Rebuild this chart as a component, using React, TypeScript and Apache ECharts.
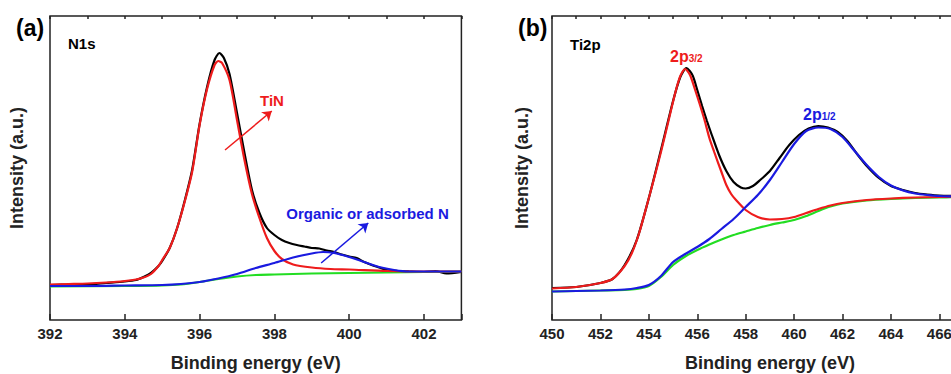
import React, { useEffect, useRef } from "react";
import * as echarts from "echarts";

// ---------- Panel (a): N1s ----------
const n1sRaw: [number, number][] = [
  [392.0, 35], [392.3, 35.5], [392.6, 35], [393.0, 35.5], [393.5, 37], [394.0, 38.5], [394.3, 40],
  [394.5, 43], [394.7, 47], [394.9, 54], [395.0, 59], [395.2, 72], [395.4, 92], [395.6, 119],
  [395.8, 150], [396.0, 196], [396.2, 233], [396.4, 260], [396.53, 267], [396.65, 262], [396.8, 246],
  [397.0, 207], [397.2, 167], [397.4, 130], [397.6, 107], [397.8, 92], [398.0, 85], [398.2, 80],
  [398.4, 77], [398.6, 75], [398.8, 73.5], [399.0, 72], [399.2, 71.5], [399.4, 69.5], [399.6, 68],
  [399.8, 65.5], [400.0, 63.5], [400.2, 62], [400.4, 58], [400.6, 55], [400.8, 52.5], [401.0, 50],
  [401.3, 49], [401.6, 48.5], [402.0, 48], [402.3, 49], [402.6, 46.5], [403.0, 48],
];
const n1sTiN: [number, number][] = [
  [392.0, 35.5], [392.5, 36], [393.0, 36.5], [393.5, 37.5], [394.0, 39], [394.3, 40.5], [394.5, 42.5],
  [394.7, 46], [394.9, 54], [395.0, 60], [395.2, 72], [395.4, 92], [395.6, 118], [395.8, 148],
  [396.0, 195], [396.2, 231], [396.4, 255], [396.5, 259], [396.6, 257], [396.8, 240], [397.0, 200],
  [397.2, 160], [397.4, 126], [397.6, 102], [397.8, 82], [398.0, 69], [398.2, 61], [398.5, 55.5],
  [399.0, 52.5], [399.5, 51], [400.0, 50.5], [401.0, 49], [402.0, 48.5], [403.0, 48.5],
];
const n1sOrganic: [number, number][] = [
  [392.0, 34], [393.0, 34], [394.0, 34.5], [395.0, 35], [395.5, 36], [396.0, 38], [396.5, 41.5],
  [397.0, 46], [397.5, 52], [398.0, 57], [398.5, 62.5], [399.0, 66.5], [399.3, 68], [399.6, 67],
  [400.0, 63], [400.4, 58], [400.8, 53], [401.2, 50], [401.6, 48.5], [402.0, 48.5], [403.0, 48.5],
];
const n1sBackground: [number, number][] = [
  [392.0, 33.5], [394.0, 34], [395.0, 34.5], [395.5, 35.5], [396.0, 38], [396.5, 41], [397.0, 43.5],
  [397.5, 45], [398.0, 45.5], [399.0, 46.5], [400.0, 47], [401.0, 47.5], [402.0, 48], [403.0, 48.5],
];
const tinArrow: [number, number][] = [[396.68, 170], [397.93, 209]];
const organicArrow: [number, number][] = [[399.25, 57], [400.51, 97]];

// ---------- Panel (b): Ti2p ----------
const ti2pRaw: [number, number][] = [
  [450, 32], [451, 33], [452, 37], [452.5, 41], [453, 55], [453.5, 80], [454.0, 122], [454.5, 170],
  [455.0, 219], [455.3, 243], [455.55, 252], [455.8, 245], [456.0, 230], [456.2, 214], [456.4, 199],
  [456.6, 185], [456.9, 165], [457.2, 149], [457.5, 138], [457.8, 132.5], [458.0, 131.5], [458.3, 134],
  [458.6, 140], [459.0, 149], [459.4, 162], [459.8, 175], [460.2, 185], [460.6, 191.5], [461.0, 194],
  [461.4, 192.5], [461.8, 188], [462.2, 179], [462.6, 166], [463.0, 154], [463.5, 142], [464.0, 134],
  [464.5, 130], [465.0, 127], [465.5, 125.5], [466.0, 124.5], [467.0, 124], [468.0, 123.5],
];
const ti2p32: [number, number][] = [
  [450, 31.5], [451, 33], [452, 37], [452.5, 41], [453, 54], [453.3, 67], [453.6, 87], [453.9, 113],
  [454.2, 140], [454.5, 168], [454.8, 198], [455.1, 228], [455.3, 244], [455.5, 251], [455.7, 245],
  [455.9, 231], [456.1, 216], [456.3, 200], [456.5, 182], [456.7, 168], [457.0, 148], [457.2, 135],
  [457.4, 126], [457.6, 120], [458.0, 110], [458.5, 103], [459.0, 100.5], [459.5, 101], [460.0, 103],
  [460.5, 107], [461.0, 111], [461.5, 114.5], [462, 117], [463, 120], [464, 121.5], [465, 122.5],
  [466, 123], [467, 123.5], [468, 123.5],
];
const ti2p12: [number, number][] = [
  [450, 28.5], [451, 29], [452, 29.5], [453, 30.5], [453.5, 32], [454, 35], [454.5, 44], [455, 58],
  [455.5, 66], [456, 73], [456.5, 81], [457, 91], [457.5, 101], [458, 113], [458.5, 125], [459, 140],
  [459.5, 158], [460, 176], [460.5, 189], [461, 192.5], [461.5, 191], [462, 183], [462.5, 169],
  [463, 155], [463.5, 143], [464, 134.5], [464.5, 129.5], [465, 126.5], [465.5, 125], [466, 124],
  [467, 123.5], [468, 123],
];
const ti2pBackground: [number, number][] = [
  [450, 28.5], [451, 29], [452, 29.5], [453, 30], [453.5, 31], [454, 34], [454.5, 43], [455, 55],
  [455.5, 63.5], [456, 70], [456.5, 75.5], [457, 80.5], [457.5, 85], [458, 88.5], [458.5, 92],
  [459, 95], [459.5, 97.5], [460, 100], [460.5, 104], [461, 109], [461.5, 113.5], [462, 116.5],
  [463, 119.5], [464, 121], [465, 122], [466, 122.5], [467, 123], [468, 123],
];

const FONT = '"Liberation Sans", Arial, sans-serif';
const AXIS_COLOR = "#222";
const RED = "#ee1c1c";
const BLUE = "#1a1ae0";
const GREEN = "#22dd22";
const BLACK = "#000";

function lineSeries(data: [number, number][], color: string, xi: number, yi: number, extra: any = {}) {
  return {
    type: "line",
    data,
    xAxisIndex: xi,
    yAxisIndex: yi,
    showSymbol: false,
    symbol: "none",
    smooth: 0.25,
    lineStyle: { color, width: 2.2 },
    itemStyle: { color },
    emphasis: { disabled: true },
    silent: true,
    z: 2,
    ...extra,
  };
}

function arrowMark(pts: [number, number][], color: string) {
  return {
    silent: true,
    symbol: ["none", "arrow"],
    symbolSize: 9,
    label: { show: false },
    emphasis: { disabled: true },
    lineStyle: { color, width: 1.5, type: "solid" },
    data: [[{ coord: pts[0] }, { coord: pts[1] }]],
  };
}

function majorAxis(grid: number, min: number, max: number) {
  return {
    type: "value",
    gridIndex: grid,
    min,
    max,
    interval: 2,
    name: "Binding energy (eV)",
    nameLocation: "middle",
    nameGap: 34,
    nameTextStyle: { fontFamily: FONT, fontWeight: "bold", fontSize: 18, color: AXIS_COLOR },
    axisLine: { show: false },
    axisTick: { show: true, inside: true, length: 6, lineStyle: { color: AXIS_COLOR, width: 1.5 } },
    axisLabel: {
      margin: 6,
      fontFamily: FONT,
      fontWeight: "bold",
      fontSize: 15,
      color: AXIS_COLOR,
      formatter: (v: number) => (Math.abs(v - Math.round(v)) < 1e-6 && Math.round(v) % 2 === 0 ? String(Math.round(v)) : ""),
    },
    splitLine: { show: false },
  };
}

function minorAxis(grid: number, min: number, max: number) {
  return {
    type: "value",
    gridIndex: grid,
    min,
    max,
    interval: 1,
    axisLine: { show: false },
    axisTick: { show: true, inside: true, length: 3, lineStyle: { color: AXIS_COLOR, width: 1.5 } },
    axisLabel: { show: false },
    splitLine: { show: false },
  };
}

function yAxis(grid: number, gap: number) {
  return {
    type: "value",
    gridIndex: grid,
    min: 0,
    max: 304,
    name: "Intensity (a.u.)",
    nameLocation: "middle",
    nameGap: gap,
    nameRotate: 90,
    nameTextStyle: { fontFamily: FONT, fontWeight: "bold", fontSize: 18, color: AXIS_COLOR },
    axisLine: { show: false },
    axisTick: { show: false },
    axisLabel: { show: false },
    splitLine: { show: false },
  };
}

function txt(text: string, x: number, y: number, color: string, size: number, align = "left") {
  return {
    type: "text",
    x,
    y,
    silent: true,
    style: {
      text,
      fill: color,
      font: `bold ${size}px ${FONT}`,
      textAlign: align,
      textVerticalAlign: "middle",
    },
  };
}

function subText(main: string, sub: string, x: number, y: number, color: string) {
  return {
    type: "text",
    x,
    y,
    silent: true,
    style: {
      text: `{a|${main}}{b|${sub}}`,
      textVerticalAlign: "middle",
      rich: {
        a: { fontFamily: FONT, fontWeight: "bold", fontSize: 16, fill: color, color },
        b: { fontFamily: FONT, fontWeight: "bold", fontSize: 10, fill: color, color, padding: [4, 0, 0, 0] },
      },
    },
  };
}

export default function App() {
  const ref = useRef<HTMLDivElement>(null);
  useEffect(() => {
    if (!ref.current) return;
    const chart = echarts.init(ref.current, null, { renderer: "svg" });
    chart.setOption({
      animation: false,
      backgroundColor: "#fff",
      grid: [
        { left: 50, top: 16, width: 411.4, height: 304, outerBoundsMode: "none", containLabel: false, show: true, borderColor: AXIS_COLOR, borderWidth: 1.5, backgroundColor: "transparent" },
        { left: 552, top: 16, width: 435.8, height: 304, outerBoundsMode: "none", containLabel: false, show: true, borderColor: AXIS_COLOR, borderWidth: 1.5, backgroundColor: "transparent" },
      ],
      xAxis: [majorAxis(0, 392, 403), minorAxis(0, 392, 403), majorAxis(1, 450, 468), minorAxis(1, 450, 468)],
      yAxis: [yAxis(0, 24), yAxis(1, 21)],
      series: [
        lineSeries(n1sRaw, BLACK, 0, 0),
        lineSeries(n1sBackground, GREEN, 0, 0),
        lineSeries(n1sTiN, RED, 0, 0, { markLine: arrowMark(tinArrow, RED) }),
        lineSeries(n1sOrganic, BLUE, 0, 0, { markLine: arrowMark(organicArrow, BLUE) }),
        lineSeries(ti2pRaw, BLACK, 2, 1),
        lineSeries(ti2pBackground, GREEN, 2, 1),
        lineSeries(ti2p32, RED, 2, 1),
        lineSeries(ti2p12, BLUE, 2, 1),
      ],
      graphic: [
        txt("(a)", 16, 28, BLACK, 23),
        txt("N1s", 68, 43, BLACK, 15),
        txt("TiN", 272, 100, RED, 15, "center"),
        txt("Organic or adsorbed N", 367.5, 213.5, BLUE, 15, "center"),
        txt("(b)", 518, 28, BLACK, 23),
        txt("Ti2p", 570, 44, BLACK, 15),
        subText("2p", "3/2", 670, 56, RED),
        subText("2p", "1/2", 803, 114, BLUE),
      ],
    });
    return () => chart.dispose();
  }, []);
  return (
    <div style={{ position: "fixed", left: 0, top: 0, width: 951, height: 374, overflow: "hidden", background: "#fff" }}>
      <div ref={ref} style={{ width: 1000, height: 374 }} />
    </div>
  );
}
